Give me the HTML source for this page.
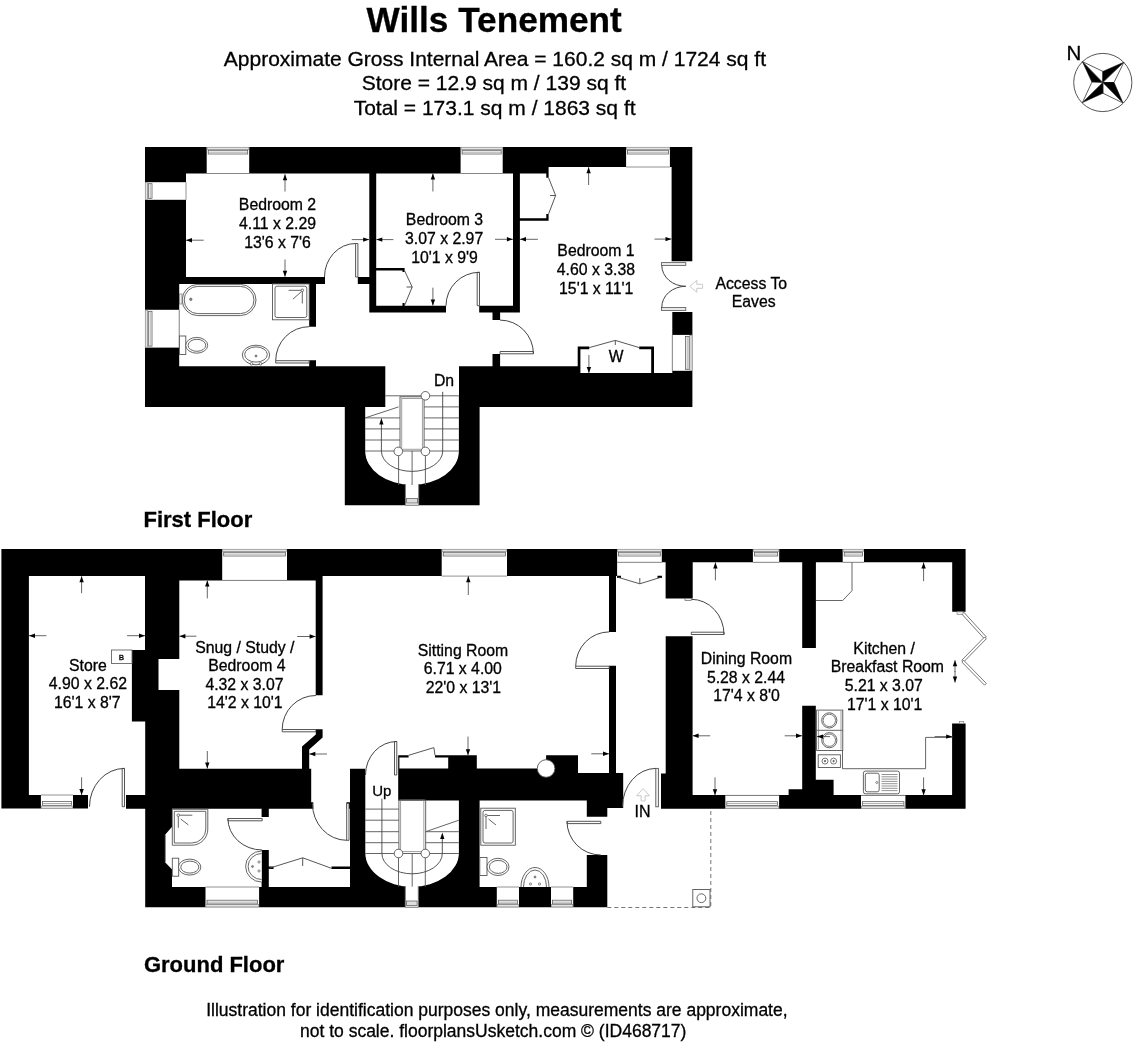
<!DOCTYPE html><html><head><meta charset="utf-8"><style>html,body{margin:0;padding:0;background:#fff;}svg{display:block;will-change:transform;}text{font-family:"Liberation Sans",sans-serif;fill:#000;stroke:#000;stroke-width:0.3px;}</style></head><body>
<svg width="1136" height="1048" viewBox="0 0 1136 1048">
<rect width="1136" height="1048" fill="#fff"/>
<path fill="#000" d="M145.00,147.00H548.50V173.50H145.00Z M548.00,147.00H692.30V167.00H548.00Z M145.00,147.00H186.00V284.00H145.00Z M145.00,277.00H179.20V407.00H145.00Z M671.60,147.00H692.30V261.20H671.60Z M672.30,312.00H692.40V407.00H672.30Z M145.00,277.00H325.00V284.00H145.00Z M357.80,277.00H369.50V284.00H357.80Z M369.30,173.00H376.20V312.60H369.30Z M376.00,268.00H404.50V270.60H376.00Z M402.50,268.00H404.60V272.00H402.50Z M402.50,303.00H404.60V306.00H402.50Z M369.30,305.70H446.00V312.60H369.30Z M479.20,305.70H519.90V312.60H479.20Z M513.00,173.00H519.90V312.60H513.00Z M519.90,218.20H548.60V220.70H519.90Z M546.30,166.00H548.60V177.80H546.30Z M546.30,213.90H548.60V220.70H546.30Z M492.50,312.00H500.10V320.10H492.50Z M492.50,354.00H500.10V366.50H492.50Z M309.20,283.70H316.00V326.70H309.20Z M309.20,360.20H316.00V366.50H309.20Z M145.00,366.20H385.30V407.00H145.00Z M459.00,366.20H578.30V407.00H459.00Z M578.00,373.00H692.40V407.00H578.00Z M577.70,346.60H580.40V373.50H577.70Z M651.20,346.60H654.00V373.50H651.20Z M577.70,346.60H589.30V349.30H577.70Z M639.20,346.60H654.00V349.30H639.20Z M344.8,395.8 L479.6,395.8 L479.6,505.2 L344.8,505.2 Z M365.2,395.8 L365.2,451 A46.85,33.8 0 0 0 458.9,451 L458.9,395.8 Z M344.80,366.20H385.30V407.00H344.80Z M459.00,366.20H479.60V407.00H459.00Z M1.40,549.00H965.60V562.30H1.40Z M1.40,549.00H617.10V576.10H1.40Z M179.00,549.00H315.80V580.40H179.00Z M1.40,549.00H28.90V808.60H1.40Z M1.40,795.00H88.00V808.60H1.40Z M126.80,795.00H179.30V808.60H126.80Z M145.00,549.00H179.30V659.00H145.00Z M131.90,650.00H179.30V659.00H131.90Z M131.90,658.50H158.50V721.40H131.90Z M131.90,690.00H179.30V721.40H131.90Z M145.20,721.00H179.30V808.60H145.20Z M315.70,576.00H322.60V695.20H315.70Z M315.80,729.20L322.60,729.20L322.60,737.40L309.20,749.40L309.20,768.80L302.00,768.80L302.00,746.60L315.80,734.40Z M145.20,768.70H311.20V808.80H145.20Z M126.00,795.00H145.40V808.80H126.00Z M311.00,802.30H313.30V808.80H311.00Z M346.50,802.30H351.50V808.80H346.50Z M145.20,768.70H172.00V907.20H145.20Z M145.20,887.00H607.30V907.20H145.20Z M261.60,808.00H268.80V817.10H261.60Z M261.60,850.00H268.80V907.00H261.60Z M268.80,866.40H273.50V869.00H268.80Z M331.50,866.40H351.50V869.00H331.50Z M350.00,768.70H365.30V907.20H350.00Z M398.20,768.50H578.00V800.40H398.20Z M398.20,755.30H408.60V757.60H398.20Z M435.00,755.30H448.20V757.60H435.00Z M448.20,755.30H476.80V768.60H448.20Z M546.10,755.30H578.00V773.00H546.10Z M578.00,772.90H623.20V800.40H578.00Z M586.80,800.00H607.30V816.80H586.80Z M607.30,800.00H623.20V808.10H607.30Z M398.20,757.50H399.40V768.60H398.20Z M459.90,800.00H479.60V907.20H459.90Z M365.3,800 L459.9,800 L459.9,907.2 L365.3,907.2 Z M365.3,800 L365.3,852.9 A46.8,33.8 0 0 0 458.9,852.9 L458.9,800 Z M586.80,855.00H607.30V907.20H586.80Z M609.00,576.00H616.00V631.90H609.00Z M609.00,665.70H616.00V773.00H609.00Z M661.80,549.00H752.30V562.30H661.80Z M665.60,562.30H692.70V598.40H665.60Z M665.70,636.20H692.60V808.70H665.70Z M661.00,773.50H692.60V808.70H661.00Z M661.00,795.10H965.60V808.70H661.00Z M802.20,562.30H815.90V647.90H802.20Z M802.20,705.80H815.80V808.70H802.20Z M815.80,779.80H833.60V808.70H815.80Z M788.60,789.30H802.50V808.70H788.60Z M952.20,549.00H965.60V611.80H952.20Z M952.10,723.60H965.60V808.70H952.10Z M617.00,575.70H621.00V578.10H617.00Z M657.50,575.70H662.00V578.10H657.50Z"/>
<g><rect x="206.7" y="147.0" width="42.5" height="26.5" fill="#fff"/><rect x="460.6" y="147.0" width="42.1" height="26.5" fill="#fff"/><rect x="626.1" y="147.0" width="43.8" height="20.0" fill="#fff"/><rect x="145.0" y="182.2" width="41.0" height="17.6" fill="#fff"/><rect x="145.0" y="309.8" width="34.2" height="37.8" fill="#fff"/><rect x="672.3" y="334.9" width="20.1" height="35.9" fill="#fff"/><rect x="405.4" y="484" width="13.3" height="21.2" fill="#fff"/><rect x="222.2" y="549.0" width="64.8" height="31.4" fill="#fff"/><rect x="441.7" y="549.0" width="65.3" height="27.1" fill="#fff"/><rect x="617.1" y="549.0" width="44.7" height="13.3" fill="#fff"/><rect x="752.9" y="549.0" width="26.3" height="13.3" fill="#fff"/><rect x="842.7" y="549.0" width="21.3" height="13.3" fill="#fff"/><rect x="40.9" y="795.0" width="32.1" height="13.6" fill="#fff"/><rect x="205.5" y="887.0" width="53.6" height="20.2" fill="#fff"/><rect x="496.8" y="887.0" width="22.2" height="20.2" fill="#fff"/><rect x="551.0" y="887.0" width="22.2" height="20.2" fill="#fff"/><rect x="725.3" y="795.4" width="53.8" height="13.3" fill="#fff"/><rect x="861.0" y="795.4" width="44.4" height="13.3" fill="#fff"/><rect x="405.3" y="886" width="13" height="21.2" fill="#fff"/><polygon points="172.10,826.80 165.30,834.50 165.30,862.60 172.10,869.40" fill="#fff"/></g>
<g><rect x="207.1" y="147.3" width="41.7" height="2.3" fill="#e4e4e4" stroke="#8a8a8a" stroke-width="0.7"/><rect x="208.2" y="150.3" width="39.5" height="3.7" fill="#fff" stroke="#555" stroke-width="0.75"/><line x1="208.2" y1="152.2" x2="247.7" y2="152.2" stroke="#777" stroke-width="0.6"/><line x1="206.7" y1="173.5" x2="249.2" y2="173.5" stroke="#777" stroke-width="0.8"/><rect x="461.0" y="147.3" width="41.3" height="2.3" fill="#e4e4e4" stroke="#8a8a8a" stroke-width="0.7"/><rect x="462.1" y="150.3" width="39.1" height="3.7" fill="#fff" stroke="#555" stroke-width="0.75"/><line x1="462.1" y1="152.2" x2="501.2" y2="152.2" stroke="#777" stroke-width="0.6"/><line x1="460.6" y1="173.5" x2="502.7" y2="173.5" stroke="#777" stroke-width="0.8"/><rect x="626.5" y="147.3" width="43.0" height="2.3" fill="#e4e4e4" stroke="#8a8a8a" stroke-width="0.7"/><rect x="627.6" y="150.3" width="40.8" height="3.7" fill="#fff" stroke="#555" stroke-width="0.75"/><line x1="627.6" y1="152.2" x2="668.4" y2="152.2" stroke="#777" stroke-width="0.6"/><line x1="626.1" y1="167.0" x2="669.9" y2="167.0" stroke="#777" stroke-width="0.8"/><rect x="145.3" y="182.6" width="2.3" height="16.8" fill="#e4e4e4" stroke="#8a8a8a" stroke-width="0.7"/><rect x="148.3" y="183.7" width="3.7" height="14.6" fill="#fff" stroke="#555" stroke-width="0.75"/><line x1="150.2" y1="183.7" x2="150.2" y2="198.3" stroke="#777" stroke-width="0.6"/><line x1="186.0" y1="182.2" x2="186.0" y2="199.8" stroke="#777" stroke-width="0.8"/><rect x="145.3" y="310.2" width="2.3" height="37.0" fill="#e4e4e4" stroke="#8a8a8a" stroke-width="0.7"/><rect x="148.3" y="311.3" width="3.7" height="34.8" fill="#fff" stroke="#555" stroke-width="0.75"/><line x1="150.2" y1="311.3" x2="150.2" y2="346.1" stroke="#777" stroke-width="0.6"/><line x1="179.2" y1="309.8" x2="179.2" y2="347.6" stroke="#777" stroke-width="0.8"/><rect x="689.8" y="335.3" width="2.3" height="35.1" fill="#e4e4e4" stroke="#8a8a8a" stroke-width="0.7"/><rect x="685.4" y="336.4" width="3.7" height="32.9" fill="#fff" stroke="#555" stroke-width="0.75"/><line x1="687.2" y1="336.4" x2="687.2" y2="369.3" stroke="#777" stroke-width="0.6"/><line x1="672.3" y1="334.9" x2="672.3" y2="370.8" stroke="#777" stroke-width="0.8"/><line x1="405.4" y1="484.0" x2="405.4" y2="505.2" stroke="#777" stroke-width="0.9"/><line x1="418.7" y1="484.0" x2="418.7" y2="505.2" stroke="#777" stroke-width="0.9"/><rect x="406.6" y="498.5" width="11" height="4.5" fill="#ddd" stroke="#666" stroke-width="0.8"/><line x1="405.4" y1="505.2" x2="418.7" y2="505.2" stroke="#777" stroke-width="0.9"/><rect x="959.4" y="721.4" width="4.4" height="2.2" fill="#eee" stroke="#777" stroke-width="0.6"/><rect x="222.6" y="549.3" width="64.0" height="2.3" fill="#e4e4e4" stroke="#8a8a8a" stroke-width="0.7"/><rect x="223.7" y="552.3" width="61.8" height="3.7" fill="#fff" stroke="#555" stroke-width="0.75"/><line x1="223.7" y1="554.1" x2="285.5" y2="554.1" stroke="#777" stroke-width="0.6"/><line x1="222.2" y1="580.4" x2="287.0" y2="580.4" stroke="#777" stroke-width="0.8"/><rect x="442.1" y="549.3" width="64.5" height="2.3" fill="#e4e4e4" stroke="#8a8a8a" stroke-width="0.7"/><rect x="443.2" y="552.3" width="62.3" height="3.7" fill="#fff" stroke="#555" stroke-width="0.75"/><line x1="443.2" y1="554.1" x2="505.5" y2="554.1" stroke="#777" stroke-width="0.6"/><line x1="441.7" y1="576.1" x2="507.0" y2="576.1" stroke="#777" stroke-width="0.8"/><rect x="617.5" y="549.3" width="43.9" height="2.3" fill="#e4e4e4" stroke="#8a8a8a" stroke-width="0.7"/><rect x="618.6" y="552.3" width="41.7" height="3.7" fill="#fff" stroke="#555" stroke-width="0.75"/><line x1="618.6" y1="554.1" x2="660.3" y2="554.1" stroke="#777" stroke-width="0.6"/><line x1="617.1" y1="562.3" x2="661.8" y2="562.3" stroke="#777" stroke-width="0.8"/><rect x="753.3" y="549.3" width="25.5" height="2.3" fill="#e4e4e4" stroke="#8a8a8a" stroke-width="0.7"/><rect x="754.4" y="552.3" width="23.3" height="3.7" fill="#fff" stroke="#555" stroke-width="0.75"/><line x1="754.4" y1="554.1" x2="777.7" y2="554.1" stroke="#777" stroke-width="0.6"/><line x1="752.9" y1="562.3" x2="779.2" y2="562.3" stroke="#777" stroke-width="0.8"/><rect x="843.1" y="549.3" width="20.5" height="2.3" fill="#e4e4e4" stroke="#8a8a8a" stroke-width="0.7"/><rect x="844.2" y="552.3" width="18.3" height="3.7" fill="#fff" stroke="#555" stroke-width="0.75"/><line x1="844.2" y1="554.1" x2="862.5" y2="554.1" stroke="#777" stroke-width="0.6"/><line x1="842.7" y1="562.3" x2="864.0" y2="562.3" stroke="#777" stroke-width="0.8"/><rect x="41.3" y="806.0" width="31.3" height="2.3" fill="#e4e4e4" stroke="#8a8a8a" stroke-width="0.7"/><rect x="42.4" y="801.6" width="29.1" height="3.7" fill="#fff" stroke="#555" stroke-width="0.75"/><line x1="42.4" y1="803.5" x2="71.5" y2="803.5" stroke="#777" stroke-width="0.6"/><line x1="40.9" y1="795.0" x2="73.0" y2="795.0" stroke="#777" stroke-width="0.8"/><rect x="205.9" y="904.6" width="52.8" height="2.3" fill="#e4e4e4" stroke="#8a8a8a" stroke-width="0.7"/><rect x="207.0" y="900.2" width="50.6" height="3.7" fill="#fff" stroke="#555" stroke-width="0.75"/><line x1="207.0" y1="902.1" x2="257.6" y2="902.1" stroke="#777" stroke-width="0.6"/><line x1="205.5" y1="887.0" x2="259.1" y2="887.0" stroke="#777" stroke-width="0.8"/><rect x="497.2" y="904.6" width="21.4" height="2.3" fill="#e4e4e4" stroke="#8a8a8a" stroke-width="0.7"/><rect x="498.3" y="900.2" width="19.2" height="3.7" fill="#fff" stroke="#555" stroke-width="0.75"/><line x1="498.3" y1="902.1" x2="517.5" y2="902.1" stroke="#777" stroke-width="0.6"/><line x1="496.8" y1="887.0" x2="519.0" y2="887.0" stroke="#777" stroke-width="0.8"/><rect x="551.4" y="904.6" width="21.4" height="2.3" fill="#e4e4e4" stroke="#8a8a8a" stroke-width="0.7"/><rect x="552.5" y="900.2" width="19.2" height="3.7" fill="#fff" stroke="#555" stroke-width="0.75"/><line x1="552.5" y1="902.1" x2="571.7" y2="902.1" stroke="#777" stroke-width="0.6"/><line x1="551.0" y1="887.0" x2="573.2" y2="887.0" stroke="#777" stroke-width="0.8"/><rect x="725.7" y="806.1" width="53.0" height="2.3" fill="#e4e4e4" stroke="#8a8a8a" stroke-width="0.7"/><rect x="726.8" y="801.7" width="50.8" height="3.7" fill="#fff" stroke="#555" stroke-width="0.75"/><line x1="726.8" y1="803.6" x2="777.6" y2="803.6" stroke="#777" stroke-width="0.6"/><line x1="725.3" y1="795.4" x2="779.1" y2="795.4" stroke="#777" stroke-width="0.8"/><rect x="861.4" y="806.1" width="43.6" height="2.3" fill="#e4e4e4" stroke="#8a8a8a" stroke-width="0.7"/><rect x="862.5" y="801.7" width="41.4" height="3.7" fill="#fff" stroke="#555" stroke-width="0.75"/><line x1="862.5" y1="803.6" x2="903.9" y2="803.6" stroke="#777" stroke-width="0.6"/><line x1="861.0" y1="795.4" x2="905.4" y2="795.4" stroke="#777" stroke-width="0.8"/><line x1="405.3" y1="886.0" x2="405.3" y2="907.2" stroke="#777" stroke-width="0.9"/><line x1="418.3" y1="886.0" x2="418.3" y2="907.2" stroke="#777" stroke-width="0.9"/><rect x="406.5" y="901" width="10.6" height="4.5" fill="#ddd" stroke="#666" stroke-width="0.8"/><line x1="405.3" y1="907.2" x2="418.3" y2="907.2" stroke="#777" stroke-width="0.9"/><polygon points="355.6,277.0 355.6,243.5 357.9,243.5 357.9,277.0" fill="#fcfcfc" stroke="#444" stroke-width="0.9"/><path d="M355.6,243.5 A31.1,33.5 0 0 0 324.5,277.0" stroke="#444" stroke-width="1" fill="none"/><polygon points="479.5,305.7 479.5,272.3 477.2,272.3 477.2,305.7" fill="#fcfcfc" stroke="#444" stroke-width="0.9"/><path d="M479.5,272.3 A33.5,33.4 0 0 0 446.0,305.7" stroke="#444" stroke-width="1" fill="none"/><polygon points="309.2,360.7 275.7,360.7 275.7,363.0 309.2,363.0" fill="#fcfcfc" stroke="#444" stroke-width="0.9"/><path d="M275.7,360.7 A33.5,34.0 0 0 1 309.2,326.7" stroke="#444" stroke-width="1" fill="none"/><polygon points="500.1,353.8 533.4,353.8 533.4,351.5 500.1,351.5" fill="#fcfcfc" stroke="#444" stroke-width="0.9"/><path d="M533.4,353.8 A33.3,33.7 0 0 0 500.1,320.1" stroke="#444" stroke-width="1" fill="none"/><rect x="661.5" y="262.6" width="24.3" height="2.9" fill="#e8e8e8" stroke="#555" stroke-width="0.8"/><rect x="661.5" y="307.5" width="24.3" height="2.9" fill="#e8e8e8" stroke="#555" stroke-width="0.8"/><path d="M661.8,265.5 A24,20.8 0 0 0 685.8,286.3 A24,20.8 0 0 0 661.8,307.5" stroke="#444" stroke-width="1" fill="none"/><path d="M404.5,270.6 L412.2,287 L404.5,305.5 M406.5,287 L412.2,287" stroke="#444" stroke-width="0.9" fill="none"/><path d="M548.6,177.8 L555.6,195.5 L548.6,213.9 M550,195.5 L555.6,195.5" stroke="#444" stroke-width="0.9" fill="none"/><path d="M589.3,347.6 L615.3,340.4 L639.2,347.6 M615.3,340.4 L615.3,345" stroke="#444" stroke-width="0.9" fill="none"/><rect x="182.2" y="284.4" width="73.8" height="31.2" rx="15.6" fill="none" stroke="#555" stroke-width="0.9"/><rect x="184.2" y="286.4" width="69.8" height="27.2" rx="13.6" fill="none" stroke="#555" stroke-width="0.9"/><circle cx="190.8" cy="299.3" r="1.2" stroke="#666" stroke-width="0.8" fill="#888"/><rect x="179.4" y="294" width="2.6" height="10" fill="#eee" stroke="#777" stroke-width="0.7"/><rect x="272.5" y="283.9" width="36.7" height="35.9" fill="none" stroke="#555" stroke-width="0.9"/><rect x="275" y="286.2" width="31.8" height="31.3" rx="2" fill="none" stroke="#555" stroke-width="0.9"/><path d="M288.6,290.3 L302.3,290.3 M302.3,290.3 L302.3,303.5 M292.9,299.2 L301.5,291.5" stroke="#555" stroke-width="0.9" fill="none"/><circle cx="302.3" cy="290.3" r="1.3" stroke="#555" stroke-width="0.8" fill="#fff"/><rect x="179.4" y="336" width="6.4" height="18.5" fill="#fff" stroke="#555" stroke-width="0.9"/><ellipse cx="196.7" cy="345.3" rx="11" ry="7.9" fill="#fff" stroke="#555" stroke-width="0.9"/><ellipse cx="196.9" cy="345.3" rx="8.8" ry="6" fill="none" stroke="#555" stroke-width="0.9"/><ellipse cx="256" cy="355" rx="13.7" ry="9.8" fill="#fff" stroke="#555" stroke-width="0.9"/><ellipse cx="256" cy="354.5" rx="11.3" ry="7.6" fill="none" stroke="#555" stroke-width="0.9"/><circle cx="256.0" cy="356.0" r="1.0" stroke="#666" stroke-width="0.8" fill="#888"/><circle cx="251.5" cy="363.8" r="1.3" stroke="#555" stroke-width="0.8" fill="#fff"/><circle cx="260.5" cy="363.8" r="1.3" stroke="#555" stroke-width="0.8" fill="#fff"/><line x1="365.2" y1="417.9" x2="400.0" y2="417.9" stroke="#555" stroke-width="0.9"/><line x1="365.2" y1="428.9" x2="400.0" y2="428.9" stroke="#555" stroke-width="0.9"/><line x1="365.2" y1="440.0" x2="400.0" y2="440.0" stroke="#555" stroke-width="0.9"/><line x1="365.2" y1="451.0" x2="400.0" y2="451.0" stroke="#555" stroke-width="0.9"/><line x1="424.1" y1="406.9" x2="458.9" y2="406.9" stroke="#555" stroke-width="0.9"/><line x1="424.1" y1="417.9" x2="458.9" y2="417.9" stroke="#555" stroke-width="0.9"/><line x1="424.1" y1="428.9" x2="458.9" y2="428.9" stroke="#555" stroke-width="0.9"/><line x1="424.1" y1="440.0" x2="458.9" y2="440.0" stroke="#555" stroke-width="0.9"/><line x1="424.1" y1="451.0" x2="458.9" y2="451.0" stroke="#555" stroke-width="0.9"/><line x1="385.3" y1="395.8" x2="458.9" y2="395.8" stroke="#555" stroke-width="0.9"/><line x1="365.2" y1="417.9" x2="398.6" y2="406.9" stroke="#555" stroke-width="0.9"/><rect x="400" y="396.8" width="24.1" height="54.2" fill="none" stroke="#555" stroke-width="0.9"/><rect x="401.8" y="398.6" width="20.5" height="50.6" fill="none" stroke="#777" stroke-width="0.7"/><line x1="398.6" y1="451.0" x2="398.6" y2="485.0" stroke="#555" stroke-width="0.9"/><line x1="412.1" y1="451.0" x2="412.1" y2="485.0" stroke="#555" stroke-width="0.9"/><line x1="425.4" y1="451.0" x2="425.4" y2="485.0" stroke="#555" stroke-width="0.9"/><path d="M442.7,391.8 L442.7,451 A30.65,20.4 0 0 1 381.4,451 L381.4,423" stroke="#444" stroke-width="0.9" fill="none"/><polygon points="381.4,417.9 379.3,424.5 383.5,424.5" fill="#000"/><circle cx="425.4" cy="395.8" r="4.3" stroke="#555" stroke-width="0.9" fill="#fff"/><circle cx="398.3" cy="451.4" r="4.3" stroke="#555" stroke-width="0.9" fill="#fff"/><circle cx="425.4" cy="451.4" r="4.3" stroke="#555" stroke-width="0.9" fill="#fff"/><line x1="285.0" y1="191.5" x2="285.0" y2="174.3" stroke="#555" stroke-width="0.9"/><polygon points="285.0,174.3 287.2,180.3 282.8,180.3" fill="#000"/><line x1="285.0" y1="259.5" x2="285.0" y2="276.7" stroke="#555" stroke-width="0.9"/><polygon points="285.0,276.7 282.8,270.7 287.2,270.7" fill="#000"/><line x1="203.7" y1="240.2" x2="186.0" y2="240.2" stroke="#555" stroke-width="0.9"/><polygon points="186.0,240.2 192.0,238.0 192.0,242.4" fill="#000"/><line x1="351.8" y1="239.6" x2="369.2" y2="239.6" stroke="#555" stroke-width="0.9"/><polygon points="369.2,239.6 363.2,241.8 363.2,237.4" fill="#000"/><line x1="432.9" y1="191.5" x2="432.9" y2="173.6" stroke="#555" stroke-width="0.9"/><polygon points="432.9,173.6 435.1,179.6 430.7,179.6" fill="#000"/><line x1="432.9" y1="287.7" x2="432.9" y2="305.6" stroke="#555" stroke-width="0.9"/><polygon points="432.9,305.6 430.7,299.6 435.1,299.6" fill="#000"/><line x1="393.4" y1="239.6" x2="376.3" y2="239.6" stroke="#555" stroke-width="0.9"/><polygon points="376.3,239.6 382.3,237.4 382.3,241.8" fill="#000"/><line x1="495.0" y1="239.3" x2="512.9" y2="239.3" stroke="#555" stroke-width="0.9"/><polygon points="512.9,239.3 506.9,241.5 506.9,237.1" fill="#000"/><line x1="537.9" y1="239.3" x2="520.0" y2="239.3" stroke="#555" stroke-width="0.9"/><polygon points="520.0,239.3 526.0,237.1 526.0,241.5" fill="#000"/><line x1="588.6" y1="185.0" x2="588.6" y2="167.2" stroke="#555" stroke-width="0.9"/><polygon points="588.6,167.2 590.8,173.2 586.4,173.2" fill="#000"/><line x1="654.5" y1="239.1" x2="671.5" y2="239.1" stroke="#555" stroke-width="0.9"/><polygon points="671.5,239.1 665.5,241.3 665.5,236.9" fill="#000"/><line x1="588.9" y1="355.0" x2="588.9" y2="373.0" stroke="#555" stroke-width="0.9"/><polygon points="588.9,373.0 586.7,367.0 591.1,367.0" fill="#000"/><polygon points="689.8,286.3 696.8,280.3 696.8,284.3 702.6,284.3 702.6,288.3 696.8,288.3 696.8,292.3" stroke="#c4c4c4" stroke-width="0.9" fill="#fff"/><polygon points="124.5,806.7 124.5,768.4 122.2,768.4 122.2,806.7" fill="#fcfcfc" stroke="#444" stroke-width="0.9"/><path d="M124.5,768.4 A35.0,38.3 0 0 0 89.5,806.7" stroke="#444" stroke-width="1" fill="none"/><polygon points="315.8,729.5 282.2,729.5 282.2,731.8 315.8,731.8" fill="#fcfcfc" stroke="#444" stroke-width="0.9"/><path d="M282.2,729.5 A33.6,34.0 0 0 1 315.8,695.5" stroke="#444" stroke-width="1" fill="none"/><polygon points="346.7,803.4 346.7,840.3 349.0,840.3 349.0,803.4" fill="#fcfcfc" stroke="#444" stroke-width="0.9"/><path d="M346.7,840.3 A34.3,36.9 0 0 1 312.4,803.4" stroke="#444" stroke-width="1" fill="none"/><polygon points="396.8,775.0 396.8,741.5 394.5,741.5 394.5,775.0" fill="#fcfcfc" stroke="#444" stroke-width="0.9"/><path d="M396.8,741.5 A31.3,33.5 0 0 0 365.5,775.0" stroke="#444" stroke-width="1" fill="none"/><polygon points="262.2,818.5 227.9,818.5 227.9,820.8 262.2,820.8" fill="#fcfcfc" stroke="#444" stroke-width="0.9"/><path d="M227.9,818.5 A34.3,31.5 0 0 0 262.2,850.0" stroke="#444" stroke-width="1" fill="none"/><polygon points="600.8,821.3 567.0,821.3 567.0,823.6 600.8,823.6" fill="#fcfcfc" stroke="#444" stroke-width="0.9"/><path d="M567.0,821.3 A33.8,33.7 0 0 0 600.8,855.0" stroke="#444" stroke-width="1" fill="none"/><polygon points="609.2,666.2 575.7,666.2 575.7,668.5 609.2,668.5" fill="#fcfcfc" stroke="#444" stroke-width="0.9"/><path d="M575.7,666.2 A33.5,34.3 0 0 1 609.2,631.9" stroke="#444" stroke-width="1" fill="none"/><polygon points="691.3,634.5 724.0,634.5 724.0,632.2 691.3,632.2" fill="#fcfcfc" stroke="#444" stroke-width="0.9"/><path d="M724.0,634.5 A32.7,35.2 0 0 0 691.3,599.3" stroke="#444" stroke-width="1" fill="none"/><rect x="655.8" y="768.4" width="2.6" height="38.4" fill="#f4f4f4" stroke="#555" stroke-width="0.9"/><path d="M655.8,768.4 A33.5,38.4 0 0 0 622.5,806.8" stroke="#444" stroke-width="1" fill="none"/><rect x="685" y="598.4" width="6.3" height="2.2" fill="#eee" stroke="#666" stroke-width="0.7"/><path d="M408.6,755.3 L433.9,747.6 L435,755.3" stroke="#444" stroke-width="0.9" fill="none"/><path d="M268.8,868.4 L302.7,857.8 L331.7,868.4 M302.7,857.8 L302.7,866" stroke="#444" stroke-width="0.9" fill="none"/><path d="M617.1,577 L639.8,583.8 L661.8,577 M639.8,583.8 L639.8,578" stroke="#444" stroke-width="0.9" fill="none"/><polygon points="961.7,613.9 984.4,638.8 986.4,637.0 963.7,612.1" fill="#fff" stroke="#555" stroke-width="0.8"/><polygon points="984.5,637.0 961.8,660.2 963.6,662.0 986.3,638.8" fill="#fff" stroke="#555" stroke-width="0.8"/><polygon points="961.8,662.0 984.5,685.2 986.3,683.4 963.6,660.2" fill="#fff" stroke="#555" stroke-width="0.8"/><rect x="957" y="611.8" width="6" height="2.5" fill="#eee" stroke="#777" stroke-width="0.6"/><path d="M815.9,600.5 L842.7,600.5 L852,590.7 L852,562.3" stroke="#555" stroke-width="0.9" fill="none"/><path d="M842.5,710.9 L842.5,768.7 L925.6,768.7 L925.6,737.4 L952.4,737.4" stroke="#555" stroke-width="0.9" fill="none"/><rect x="816.6" y="710.1" width="26.2" height="40.4" fill="#fff" stroke="#555" stroke-width="0.9"/><line x1="816.6" y1="730.3" x2="842.8" y2="730.3" stroke="#555" stroke-width="0.9"/><line x1="818.5" y1="711.0" x2="818.5" y2="749.5" stroke="#777" stroke-width="0.7"/><line x1="841.0" y1="711.0" x2="841.0" y2="749.5" stroke="#777" stroke-width="0.7"/><circle cx="829.3" cy="720.4" r="7.6" stroke="#555" stroke-width="0.9" fill="#fff"/><circle cx="829.3" cy="720.4" r="6.2" stroke="#555" stroke-width="0.8" fill="none"/><circle cx="829.3" cy="740.2" r="7.6" stroke="#555" stroke-width="0.9" fill="#fff"/><circle cx="829.3" cy="740.2" r="6.2" stroke="#555" stroke-width="0.8" fill="none"/><rect x="818.2" y="754.8" width="22.2" height="12.7" fill="#fff" stroke="#555" stroke-width="0.9"/><circle cx="825.0" cy="761.1" r="3.0" stroke="#555" stroke-width="0.8" fill="#fff"/><circle cx="833.6" cy="761.1" r="3.0" stroke="#555" stroke-width="0.8" fill="#fff"/><circle cx="825.0" cy="761.1" r="0.8" stroke="#555" stroke-width="0.6" fill="#555"/><circle cx="833.6" cy="761.1" r="0.8" stroke="#555" stroke-width="0.6" fill="#555"/><rect x="863.4" y="771.1" width="36.1" height="22.7" rx="2" fill="#fff" stroke="#555" stroke-width="0.9"/><rect x="865.3" y="773.2" width="13.9" height="18.6" rx="2" fill="#fff" stroke="#555" stroke-width="0.9"/><line x1="881.5" y1="774.5" x2="897.5" y2="774.5" stroke="#666" stroke-width="0.7"/><line x1="881.5" y1="776.8" x2="897.5" y2="776.8" stroke="#666" stroke-width="0.7"/><line x1="881.5" y1="779.1" x2="897.5" y2="779.1" stroke="#666" stroke-width="0.7"/><line x1="881.5" y1="781.4" x2="897.5" y2="781.4" stroke="#666" stroke-width="0.7"/><line x1="881.5" y1="783.7" x2="897.5" y2="783.7" stroke="#666" stroke-width="0.7"/><line x1="881.5" y1="786.0" x2="897.5" y2="786.0" stroke="#666" stroke-width="0.7"/><line x1="881.5" y1="788.3" x2="897.5" y2="788.3" stroke="#666" stroke-width="0.7"/><line x1="881.5" y1="790.6" x2="897.5" y2="790.6" stroke="#666" stroke-width="0.7"/><circle cx="876.8" cy="782.5" r="1.0" stroke="#555" stroke-width="0.7" fill="#fff"/><path d="M172.3,809.3 L207.8,809.3 L207.8,829 A16,16 0 0 1 191.8,845.2 L172.3,845.2 Z" fill="none" stroke="#555" stroke-width="0.9"/><path d="M174.3,811.3 L205.8,811.3 L205.8,829 A14,14 0 0 1 191.8,843 L174.3,843 Z" fill="none" stroke="#555" stroke-width="0.9"/><path d="M178.3,815.2 L192.3,815.2 M178.3,815.2 L178.3,827.8 M180.7,819 L188.4,824.9" stroke="#555" stroke-width="0.9" fill="none"/><circle cx="178.3" cy="815.2" r="1.3" stroke="#555" stroke-width="0.8" fill="#fff"/><rect x="172.3" y="858.2" width="6.4" height="18" fill="#fff" stroke="#555" stroke-width="0.9"/><ellipse cx="189.6" cy="867.1" rx="11.2" ry="8" fill="#fff" stroke="#555" stroke-width="0.9"/><ellipse cx="189.8" cy="867.1" rx="9" ry="6" fill="none" stroke="#555" stroke-width="0.9"/><path d="M261.6,851 A16,15.5 0 0 0 261.6,882" fill="#fff" stroke="#555" stroke-width="0.9"/><path d="M261.6,853.5 A13.5,13 0 0 0 261.6,879.5" fill="none" stroke="#555" stroke-width="0.9"/><circle cx="252.5" cy="866.5" r="1.0" stroke="#666" stroke-width="0.7" fill="#888"/><circle cx="259.0" cy="862.0" r="1.1" stroke="#555" stroke-width="0.7" fill="#fff"/><circle cx="259.0" cy="871.0" r="1.1" stroke="#555" stroke-width="0.7" fill="#fff"/><line x1="165.3" y1="834.5" x2="165.3" y2="862.6" stroke="#777" stroke-width="0.8"/><rect x="480.8" y="808.2" width="34.5" height="37" fill="none" stroke="#555" stroke-width="0.9"/><rect x="483" y="810.4" width="30.1" height="32.6" rx="2" fill="none" stroke="#555" stroke-width="0.9"/><path d="M486,815.5 L500,815.5 M486,815.5 L486,829 M488.5,819 L496,825" stroke="#555" stroke-width="0.9" fill="none"/><circle cx="486.0" cy="815.5" r="1.3" stroke="#555" stroke-width="0.8" fill="#fff"/><rect x="479.8" y="857.5" width="7.2" height="18" fill="#fff" stroke="#555" stroke-width="0.9"/><ellipse cx="498" cy="866.9" rx="11" ry="8.6" fill="#fff" stroke="#555" stroke-width="0.9"/><ellipse cx="498.2" cy="866.9" rx="8.8" ry="6.5" fill="none" stroke="#555" stroke-width="0.9"/><path d="M521,887 A14,19.5 0 0 1 549,887" fill="#fff" stroke="#555" stroke-width="0.9"/><path d="M523.5,887 A11.5,17 0 0 1 546.5,887" fill="none" stroke="#555" stroke-width="0.9"/><circle cx="535.0" cy="877.0" r="1.0" stroke="#666" stroke-width="0.7" fill="#888"/><circle cx="530.5" cy="884.0" r="1.1" stroke="#555" stroke-width="0.7" fill="#fff"/><circle cx="539.5" cy="884.0" r="1.1" stroke="#555" stroke-width="0.7" fill="#fff"/><line x1="365.3" y1="809.1" x2="398.9" y2="809.1" stroke="#555" stroke-width="0.9"/><line x1="365.3" y1="820.2" x2="398.9" y2="820.2" stroke="#555" stroke-width="0.9"/><line x1="365.3" y1="831.7" x2="398.9" y2="831.7" stroke="#555" stroke-width="0.9"/><line x1="365.3" y1="842.7" x2="398.9" y2="842.7" stroke="#555" stroke-width="0.9"/><line x1="365.3" y1="853.5" x2="398.9" y2="853.5" stroke="#555" stroke-width="0.9"/><line x1="425.7" y1="831.7" x2="458.9" y2="831.7" stroke="#555" stroke-width="0.9"/><line x1="425.7" y1="842.7" x2="458.9" y2="842.7" stroke="#555" stroke-width="0.9"/><line x1="425.7" y1="853.5" x2="458.9" y2="853.5" stroke="#555" stroke-width="0.9"/><line x1="425.7" y1="831.7" x2="458.9" y2="820.2" stroke="#555" stroke-width="0.9"/><rect x="398.9" y="800" width="26.8" height="53.5" fill="none" stroke="#555" stroke-width="0.9"/><rect x="400.7" y="800" width="23.2" height="51.7" fill="none" stroke="#777" stroke-width="0.7"/><line x1="398.5" y1="853.5" x2="398.5" y2="886.7" stroke="#555" stroke-width="0.9"/><line x1="412.2" y1="853.5" x2="412.2" y2="886.7" stroke="#555" stroke-width="0.9"/><line x1="425.3" y1="853.5" x2="425.3" y2="886.7" stroke="#555" stroke-width="0.9"/><path d="M381.9,798.6 L381.9,853.5 A30.2,20.3 0 0 0 442.3,853.5 L442.3,838" stroke="#444" stroke-width="0.9" fill="none"/><polygon points="442.3,832.5 440.2,839 444.4,839" fill="#000"/><circle cx="398.5" cy="853.5" r="4.3" stroke="#555" stroke-width="0.9" fill="#fff"/><circle cx="425.3" cy="853.5" r="4.3" stroke="#555" stroke-width="0.9" fill="#fff"/><circle cx="546.1" cy="768.5" r="8.8" stroke="#555" stroke-width="0.9" fill="#fff"/><path d="M607.3,907.5 L710.8,907.5 L710.8,808.2" stroke="#777" stroke-width="1" fill="none" stroke-dasharray="4,3"/><rect x="692.8" y="889.5" width="17.2" height="17.3" fill="#fff" stroke="#555" stroke-width="0.9"/><circle cx="701.4" cy="898.2" r="4.4" stroke="#555" stroke-width="0.9" fill="#fff"/><line x1="81.6" y1="593.2" x2="81.6" y2="576.2" stroke="#555" stroke-width="0.9"/><polygon points="81.6,576.2 83.8,582.2 79.4,582.2" fill="#000"/><line x1="46.4" y1="635.7" x2="29.0" y2="635.7" stroke="#555" stroke-width="0.9"/><polygon points="29.0,635.7 35.0,633.5 35.0,637.9" fill="#000"/><line x1="127.1" y1="635.7" x2="145.0" y2="635.7" stroke="#555" stroke-width="0.9"/><polygon points="145.0,635.7 139.0,637.9 139.0,633.5" fill="#000"/><line x1="81.6" y1="777.3" x2="81.6" y2="795.0" stroke="#555" stroke-width="0.9"/><polygon points="81.6,795.0 79.4,789.0 83.8,789.0" fill="#000"/><line x1="207.3" y1="598.4" x2="207.3" y2="580.5" stroke="#555" stroke-width="0.9"/><polygon points="207.3,580.5 209.5,586.5 205.1,586.5" fill="#000"/><line x1="196.4" y1="636.2" x2="179.4" y2="636.2" stroke="#555" stroke-width="0.9"/><polygon points="179.4,636.2 185.4,634.0 185.4,638.4" fill="#000"/><line x1="297.2" y1="636.5" x2="315.6" y2="636.5" stroke="#555" stroke-width="0.9"/><polygon points="315.6,636.5 309.6,638.7 309.6,634.3" fill="#000"/><line x1="207.3" y1="751.0" x2="207.3" y2="768.6" stroke="#555" stroke-width="0.9"/><polygon points="207.3,768.6 205.1,762.6 209.5,762.6" fill="#000"/><line x1="468.3" y1="595.0" x2="468.3" y2="576.2" stroke="#555" stroke-width="0.9"/><polygon points="468.3,576.2 470.5,582.2 466.1,582.2" fill="#000"/><line x1="468.0" y1="736.6" x2="468.0" y2="755.2" stroke="#555" stroke-width="0.9"/><polygon points="468.0,755.2 465.8,749.2 470.2,749.2" fill="#000"/><line x1="327.0" y1="754.0" x2="309.3" y2="754.0" stroke="#555" stroke-width="0.9"/><polygon points="309.3,754.0 315.3,751.8 315.3,756.2" fill="#000"/><line x1="591.3" y1="753.8" x2="609.0" y2="753.8" stroke="#555" stroke-width="0.9"/><polygon points="609.0,753.8 603.0,756.0 603.0,751.6" fill="#000"/><line x1="715.4" y1="580.4" x2="715.4" y2="562.4" stroke="#555" stroke-width="0.9"/><polygon points="715.4,562.4 717.6,568.4 713.2,568.4" fill="#000"/><line x1="710.2" y1="735.8" x2="692.6" y2="735.8" stroke="#555" stroke-width="0.9"/><polygon points="692.6,735.8 698.6,733.6 698.6,738.0" fill="#000"/><line x1="784.7" y1="735.8" x2="802.0" y2="735.8" stroke="#555" stroke-width="0.9"/><polygon points="802.0,735.8 796.0,738.0 796.0,733.6" fill="#000"/><line x1="715.0" y1="777.4" x2="715.0" y2="795.3" stroke="#555" stroke-width="0.9"/><polygon points="715.0,795.3 712.8,789.3 717.2,789.3" fill="#000"/><line x1="923.6" y1="581.2" x2="923.6" y2="562.4" stroke="#555" stroke-width="0.9"/><polygon points="923.6,562.4 925.8,568.4 921.4,568.4" fill="#000"/><line x1="830.0" y1="736.6" x2="817.0" y2="736.6" stroke="#555" stroke-width="0.9"/><polygon points="817.0,736.6 823.0,734.4 823.0,738.8" fill="#000"/><line x1="934.7" y1="736.6" x2="952.2" y2="736.6" stroke="#555" stroke-width="0.9"/><polygon points="952.2,736.6 946.2,738.8 946.2,734.4" fill="#000"/><line x1="923.6" y1="777.4" x2="923.6" y2="795.3" stroke="#555" stroke-width="0.9"/><polygon points="923.6,795.3 921.4,789.3 925.8,789.3" fill="#000"/><line x1="955.0" y1="672.0" x2="955.0" y2="660.2" stroke="#555" stroke-width="0.9"/><polygon points="955.0,660.2 957.2,666.2 952.8,666.2" fill="#000"/><line x1="955.0" y1="671.0" x2="955.0" y2="682.6" stroke="#555" stroke-width="0.9"/><polygon points="955.0,682.6 952.8,676.6 957.2,676.6" fill="#000"/><polygon points="643.1,788.6 649.6,795.8 645.1,795.8 645.1,801 641.1,801 641.1,795.8 636.6,795.8" stroke="#c4c4c4" stroke-width="0.9" fill="#fff"/><circle cx="1102.8" cy="82.5" r="29.1" fill="none" stroke="#555" stroke-width="1"/><polygon points="1082.4,61.6 1102.8,82.5 1091.9,82.1" fill="#000" stroke="#000" stroke-width="0.6"/><polygon points="1082.4,61.6 1102.8,82.5 1102.9,71.4" fill="#fff" stroke="#333" stroke-width="0.8"/><polygon points="1123.9,62.2 1102.8,82.5 1102.9,71.4" fill="#000" stroke="#000" stroke-width="0.6"/><polygon points="1123.9,62.2 1102.8,82.5 1114,82.5" fill="#fff" stroke="#333" stroke-width="0.8"/><polygon points="1123,103 1102.8,82.5 1114,82.5" fill="#000" stroke="#000" stroke-width="0.6"/><polygon points="1123,103 1102.8,82.5 1102.9,93.2" fill="#fff" stroke="#333" stroke-width="0.8"/><polygon points="1082.4,102.6 1102.8,82.5 1102.9,93.2" fill="#000" stroke="#000" stroke-width="0.6"/><polygon points="1082.4,102.6 1102.8,82.5 1091.9,82.1" fill="#fff" stroke="#333" stroke-width="0.8"/><rect x="111.5" y="650" width="20.5" height="13.5" fill="#fff" stroke="#666" stroke-width="0.9"/></g>
<g><text x="1066.5" y="60" font-size="20.5">N</text><text x="494.2" y="32" font-size="35.2" font-weight="bold" text-anchor="middle">Wills Tenement</text><text x="494.9" y="65.5" font-size="21" font-weight="normal" text-anchor="middle">Approximate Gross Internal Area = 160.2 sq m / 1724 sq ft</text><text x="493.9" y="90.1" font-size="21" font-weight="normal" text-anchor="middle">Store = 12.9 sq m / 139 sq ft</text><text x="494.6" y="115.3" font-size="21" font-weight="normal" text-anchor="middle">Total = 173.1 sq m / 1863 sq ft</text><text x="143.5" y="527" font-size="22" font-weight="bold" text-anchor="start">First Floor</text><text x="143.9" y="972" font-size="22" font-weight="bold" text-anchor="start">Ground Floor</text><text x="496.9" y="1015.8" font-size="17.5" font-weight="normal" text-anchor="middle">Illustration for identification purposes only, measurements are approximate,</text><text x="493.2" y="1037.3" font-size="17.5" font-weight="normal" text-anchor="middle">not to scale. floorplansUsketch.com © (ID468717)</text><text x="277.5" y="210.1" font-size="15.8" font-weight="normal" text-anchor="middle">Bedroom 2</text><text x="277.5" y="228.7" font-size="15.8" font-weight="normal" text-anchor="middle">4.11 x 2.29</text><text x="277.5" y="247.7" font-size="15.8" font-weight="normal" text-anchor="middle">13'6 x 7'6</text><text x="444.5" y="224.8" font-size="15.8" font-weight="normal" text-anchor="middle">Bedroom 3</text><text x="444.1" y="243.7" font-size="15.8" font-weight="normal" text-anchor="middle">3.07 x 2.97</text><text x="444.5" y="262.7" font-size="15.8" font-weight="normal" text-anchor="middle">10'1 x 9'9</text><text x="596" y="256.1" font-size="15.8" font-weight="normal" text-anchor="middle">Bedroom 1</text><text x="595.9" y="274.6" font-size="15.8" font-weight="normal" text-anchor="middle">4.60 x 3.38</text><text x="596.2" y="293.5" font-size="15.8" font-weight="normal" text-anchor="middle">15'1 x 11'1</text><text x="751.3" y="288.7" font-size="15.8" font-weight="normal" text-anchor="middle">Access To</text><text x="753.7" y="307.1" font-size="15.8" font-weight="normal" text-anchor="middle">Eaves</text><text x="444" y="385.8" font-size="15.8" font-weight="normal" text-anchor="middle">Dn</text><text x="616.1" y="361.9" font-size="15.6" font-weight="normal" text-anchor="middle">W</text><text x="87.9" y="670.5" font-size="15.8" font-weight="normal" text-anchor="middle">Store</text><text x="87.9" y="689" font-size="15.8" font-weight="normal" text-anchor="middle">4.90 x 2.62</text><text x="87.3" y="708.2" font-size="15.8" font-weight="normal" text-anchor="middle">16'1 x 8'7</text><text x="244.8" y="652.5" font-size="15.8" font-weight="normal" text-anchor="middle">Snug / Study /</text><text x="246.9" y="671.2" font-size="15.8" font-weight="normal" text-anchor="middle">Bedroom 4</text><text x="244.5" y="690" font-size="15.8" font-weight="normal" text-anchor="middle">4.32 x 3.07</text><text x="244.9" y="708.4" font-size="15.8" font-weight="normal" text-anchor="middle">14'2 x 10'1</text><text x="463" y="655.8" font-size="15.8" font-weight="normal" text-anchor="middle">Sitting Room</text><text x="462.8" y="674.2" font-size="15.8" font-weight="normal" text-anchor="middle">6.71 x 4.00</text><text x="463.4" y="692.9" font-size="15.8" font-weight="normal" text-anchor="middle">22'0 x 13'1</text><text x="746.4" y="664.4" font-size="15.8" font-weight="normal" text-anchor="middle">Dining Room</text><text x="746" y="683.1" font-size="15.8" font-weight="normal" text-anchor="middle">5.28 x 2.44</text><text x="746.5" y="701.4" font-size="15.8" font-weight="normal" text-anchor="middle">17'4 x 8'0</text><text x="884.1" y="653.7" font-size="15.8" font-weight="normal" text-anchor="middle">Kitchen /</text><text x="887.4" y="672.4" font-size="15.8" font-weight="normal" text-anchor="middle">Breakfast Room</text><text x="883.8" y="691.1" font-size="15.8" font-weight="normal" text-anchor="middle">5.21 x 3.07</text><text x="884.7" y="709.8" font-size="15.8" font-weight="normal" text-anchor="middle">17'1 x 10'1</text><text x="381.8" y="796" font-size="15" font-weight="normal" text-anchor="middle">Up</text><text x="642.5" y="817.4" font-size="16" font-weight="normal" text-anchor="middle">IN</text><text x="121.4" y="659.5" font-size="8" font-weight="normal" text-anchor="middle">B</text></g>
</svg></body></html>
